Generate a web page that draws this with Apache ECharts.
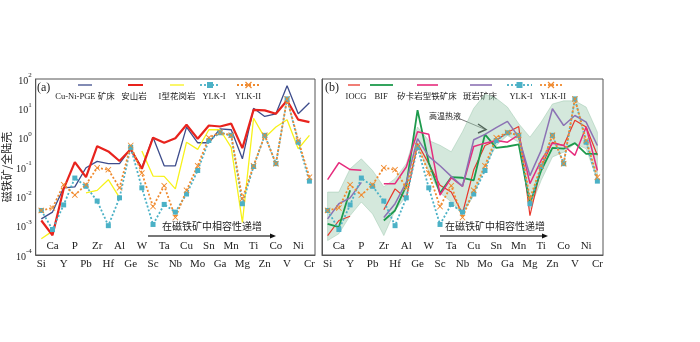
<!DOCTYPE html>
<html>
<head>
<meta charset="utf-8">
<script src="https://cdn.jsdelivr.net/npm/echarts@6/dist/echarts.min.js"></script>
<style>
  html, body { margin: 0; padding: 0; background: #fff; }
  #chart { width: 700px; height: 342px; }
</style>
</head>
<body>
<div id="chart"></div>
<script>
/* 元素顺序(磁铁矿中相容性递增) */
var elements = ['Si','Ca','Y','P','Pb','Zr','Hf','Al','Ge','W','Sc','Ta','Nb','Cu','Mo','Sn','Ga','Mn','Mg','Ti','Zn','Co','V','Ni','Cr'];

/* (a) */
var cuNiPge  = [1.7e-3, 2.9e-3, 0.0195, 0.021, 0.094, 0.155, 0.13, 0.13, 0.42, 0.094, 1.04, 0.11, 0.11, 2.3, 0.67, 0.67, 2.0, 1.86, 0.19, 10, 5.3, 6.5, 59, 6.5, 15.5];
var andesite = [1.5e-3, 4.7e-4, 0.018, 0.147, 0.045, 0.51, 0.34, 0.16, 0.4, 0.087, 1.0, 0.67, 0.96, 2.75, 0.92, 2.6, 2.4, 3.0, 0.44, 8.9, 8.5, 6.5, 18.5, 4.1, 3.4];
var granite  = [3.6e-4, 6.5e-4, null, null, 0.013, 0.016, 0.037, 0.009, null, 0.35, 0.049, 0.048, 0.018, 0.7, 0.4, 1.86, 1.86, 0.47, 1.3e-3, 4.6, 1.0, 2.3, 4.1, 0.42, 1.2];
var ylk1     = [3.3e-3, 7.4e-4, 5.1e-3, 0.042, 0.022, 6.9e-3, 1.0e-3, 8.9e-3, 0.47, 0.0195, 1.1e-3, 5.3e-3, 2.9e-3, 0.012, 0.076, 0.8, 1.47, 1.2, 5.6e-3, 0.104, 1.2, 0.13, 21, 0.7, 0.033];
var ylk2     = [3.3e-3, 4e-3, 0.025, 0.011, 0.025, 0.094, 0.081, 0.0195, 0.54, 0.062, 4.5e-3, 0.023, 1.9e-3, 0.016, 0.11, 1.0, 1.5, 1.2, 8.3e-3, 0.11, 1.2, 0.13, 21, 0.8, 0.045];

/* (b) */
var iocg     = [4.6e-4, 1.5e-3, 2.1e-3, null, null, 3.5e-3, 0.018, 8.3e-3, 0.63, 0.13, 0.024, 0.014, 2.6e-3, 0.08, 0.54, 0.8, 1.5, 2.4, 2.2e-3, 0.099, 0.7, 0.54, 3.9, 2.3, 0.25];
var bif      = [1.15e-3, 8.9e-4, 0.016, null, null, 1.5e-3, 3.3e-3, 0.023, 8.7, 0.14, 0.013, 0.045, 0.043, 0.035, 1.3, 0.45, 0.5, 0.59, 5.6e-3, 0.076, 0.45, 0.42, 0.65, 0.28, 0.28];
var skarn    = [0.037, 0.14, 0.082, 0.078, null, 0.027, 0.027, 0.1, 1.6, 1.3, 0.011, 0.043, 0.022, 0.5, 0.65, 0.8, 0.7, 1.25, 0.027, 0.17, 0.65, 0.54, 0.25, 2.3, 0.076];
var porphyry = [1.7e-3, 5.6e-3, 8.9e-3, 0.03, null, 1.9e-3, 5.6e-3, 0.03, 0.93, 0.23, 0.11, 0.048, 0.022, 0.85, 1.3, 2.2, 3.6, 1.04, 0.051, 0.37, 9.7, 2.6, 5.7, 3.4, 0.54];
/* 高温热液 范围 */
var envUpper = [0.014, 0.014, 0.087, 0.19, 0.076, 0.021, 0.04, 0.13, 2.3, 0.8, 0.55, 0.33, 1.6, 10, 30, 22, 11, 3, 1.04, 3.4, 14, 18, 18, 11, 1.54];
var envLower = [3.1e-4, 5.3e-4, 2.2e-3, 6.4e-3, 2.5e-3, 4.6e-4, 3.3e-3, 0.01, 0.5, 0.07, 0.013, 6.5e-3, 2.4e-3, 0.011, 0.1, 0.54, 1.19, 0.7, 3.7e-3, 0.035, 0.22, 0.32, 0.62, 0.42, 0.035];

var SERIF = "'Liberation Serif', 'Noto Sans CJK SC', serif";
var AXIS_COLOR = '#555';
var CROSS = 'path://M0,1L1,0L5,4L9,0L10,1L6,5L10,9L9,10L5,6L1,10L0,9L4,5Z';

var colors = {
    cuNiPge: '#3e4d8c', andesite: '#e8231d', granite: '#f7f21a',
    ylk1: '#4bb1c6', ylk2: '#f08a2e',
    iocg: '#e8382c', bif: '#1d9a4c', skarn: '#e62c7d', porphyry: '#8c72b4'
};

var grids = [
    { left: 33, right: 385, top: 79, bottom: 87, show: true, borderColor: AXIS_COLOR, borderWidth: 1 },
    { left: 322, right: 97, top: 79, bottom: 87, show: true, borderColor: AXIS_COLOR, borderWidth: 1 }
];

function makeXAxes(g) {
    return [{
        gridIndex: g, type: 'category', data: elements, position: 'bottom',
        axisLine: { lineStyle: { color: AXIS_COLOR } },
        axisTick: { inside: true, alignWithLabel: true, length: 3, interval: 0, lineStyle: { color: AXIS_COLOR } },
        axisLabel: { interval: function (i) { return i % 2 === 0; }, margin: 4, fontSize: 11, fontFamily: SERIF, color: '#222' }
    }, {
        gridIndex: g, type: 'category', data: elements, position: 'bottom',
        axisLine: { show: false }, axisTick: { show: false },
        axisLabel: { inside: true, interval: function (i) { return i % 2 === 1; }, margin: 3, fontSize: 11, fontFamily: SERIF, color: '#222' }
    }];
}

function makeYAxis(g, withLabel) {
    var ax = {
        gridIndex: g, type: 'log', logBase: 10, min: 1e-4, max: 100, splitNumber: 6,
        axisLine: { show: true, lineStyle: { color: AXIS_COLOR } },
        axisTick: { inside: true, length: 4, lineStyle: { color: AXIS_COLOR } },
        splitLine: { show: false },
        axisLabel: {
            show: withLabel, margin: 4, color: '#222',
            formatter: function (v) {
                var e = Math.round(Math.log10(v));
                return '{b|10}{s|' + e + '}';
            },
            rich: {
                b: { fontSize: 10, fontFamily: SERIF, color: '#222', lineHeight: 14, verticalAlign: 'bottom' },
                s: { fontSize: 7, fontFamily: SERIF, color: '#222', lineHeight: 14, verticalAlign: 'top' }
            }
        }
    };
    if (withLabel) {
        ax.name = '磁铁矿/全陆壳';
        ax.nameLocation = 'middle';
        ax.nameRotate = 90;
        ax.nameGap = 20;
        ax.nameTextStyle = { fontSize: 11, fontFamily: "'Noto Sans CJK SC'", color: '#222' };
    }
    return ax;
}

function solid(name, data, color, width, xi, yi) {
    return {
        name: name, type: 'line', data: data, xAxisIndex: xi, yAxisIndex: yi,
        symbol: 'none', z: 3,
        lineStyle: { color: color, width: width }
    };
}
function dotted(name, data, color, symbol, size, xi, yi) {
    return {
        name: name, type: 'line', data: data, xAxisIndex: xi, yAxisIndex: yi,
        symbol: symbol, symbolSize: size, showAllSymbol: true, z: 4,
        itemStyle: { color: color },
        lineStyle: { color: color, width: 1.8, type: [2, 2] }
    };
}

/* 图例:线段在上,文字在下 */
function legendItem(x1, x2, cx, label, color, width, kind) {
    var y = 85, items = [];
    items.push({ type: 'line', shape: { x1: x1, y1: y, x2: x2, y2: y },
        style: { stroke: color, lineWidth: kind ? 1.8 : width, lineDash: kind ? [2, 2] : null } });
    if (kind === 'rect') {
        var m = (x1 + x2) / 2;
        items.push({ type: 'rect', shape: { x: m - 3, y: y - 3, width: 6, height: 6 }, style: { fill: color } });
    } else if (kind === 'cross') {
        var m2 = (x1 + x2) / 2;
        items.push({ type: 'line', shape: { x1: m2 - 3, y1: y - 3, x2: m2 + 3, y2: y + 3 }, style: { stroke: color, lineWidth: 1.3 } });
        items.push({ type: 'line', shape: { x1: m2 - 3, y1: y + 3, x2: m2 + 3, y2: y - 3 }, style: { stroke: color, lineWidth: 1.3 } });
    }
    items.push({ type: 'text', x: cx, y: 96.5,
        style: { text: label, fill: '#222', font: '8.5px ' + SERIF, align: 'center', verticalAlign: 'middle' } });
    return items;
}

function arrow(x1, x2, y, textX, text) {
    return [
        { type: 'line', shape: { x1: x1, y1: y, x2: x2 - 3, y2: y }, style: { stroke: '#777', lineWidth: 2 } },
        { type: 'polygon', shape: { points: [[x2 - 5, y - 2.5], [x2 + 1, y], [x2 - 5, y + 2.5]] }, style: { fill: '#111' } },
        { type: 'text', x: textX, y: y - 9,
          style: { text: text, fill: '#222', font: '10px ' + SERIF, align: 'left', verticalAlign: 'middle' } }
    ];
}

var graphics = [];
graphics.push({ type: 'text', x: 37, y: 88, style: { text: '(a)', fill: '#222', font: '12px ' + SERIF, verticalAlign: 'middle' } });
graphics.push({ type: 'text', x: 325, y: 88, style: { text: '(b)', fill: '#222', font: '12px ' + SERIF, verticalAlign: 'middle' } });
graphics = graphics
    .concat(legendItem(78, 92, 85, 'Cu-Ni-PGE 矿床', colors.cuNiPge, 1.3))
    .concat(legendItem(128, 143, 134, '安山岩', colors.andesite, 2))
    .concat(legendItem(170, 184, 177, 'I型花岗岩', colors.granite, 1.3))
    .concat(legendItem(200, 220, 214, 'YLK-I', colors.ylk1, 1.8, 'rect'))
    .concat(legendItem(237, 260, 248, 'YLK-II', colors.ylk2, 1.8, 'cross'))
    .concat(legendItem(348, 360, 356, 'IOCG', colors.iocg, 1.3))
    .concat(legendItem(370, 393, 381, 'BIF', colors.bif, 1.8))
    .concat(legendItem(417, 438, 427, '矽卡岩型铁矿床', colors.skarn, 1.6))
    .concat(legendItem(470, 492, 480, '斑岩矿床', colors.porphyry, 1.6))
    .concat(legendItem(507, 532, 521, 'YLK-I', colors.ylk1, 1.8, 'rect'))
    .concat(legendItem(540, 562, 553, 'YLK-II', colors.ylk2, 1.8, 'cross'))
    .concat(arrow(148, 275, 236, 162, '在磁铁矿中相容性递增'))
    .concat(arrow(440, 547, 236, 445, '在磁铁矿中相容性递增'));
/* 高温热液 标注 */
graphics.push({ type: 'text', x: 445, y: 117, style: { text: '高温热液', fill: '#222', font: '8px ' + SERIF, align: 'center', verticalAlign: 'middle' } });
graphics.push({ type: 'line', shape: { x1: 458, y1: 118, x2: 484, y2: 129 }, style: { stroke: '#777', lineWidth: 1 } });
graphics.push({ type: 'polyline', shape: { points: [[478, 124], [486, 129.5], [478, 133]] }, style: { stroke: '#111', lineWidth: 1.5, fill: null } });

var box = document.getElementById('chart');
var myChart = echarts.init(box, null, { renderer: 'canvas' });

var option = {
    animation: false,
    backgroundColor: '#fff',
    grid: grids,
    xAxis: makeXAxes(0).concat(makeXAxes(1)),
    yAxis: [makeYAxis(0, true), makeYAxis(1, false)],
    graphic: graphics,
    series: [
        {
            name: '高温热液', type: 'custom', xAxisIndex: 2, yAxisIndex: 1, z: 1, silent: true,
            data: [[0, 1]],
            renderItem: function (params, api) {
                var pts = [];
                for (var i = 0; i < envUpper.length; i++) pts.push(api.coord([i, envUpper[i]]));
                for (var j = envLower.length - 1; j >= 0; j--) pts.push(api.coord([j, envLower[j]]));
                return { type: 'polygon', shape: { points: pts },
                    style: { fill: 'rgba(160,205,178,0.45)', stroke: 'rgba(140,190,160,0.4)', lineWidth: 1 } };
            }
        },
        solid('Cu-Ni-PGE 矿床', cuNiPge, colors.cuNiPge, 1.3, 0, 0),
        solid('I型花岗岩', granite, colors.granite, 1.3, 0, 0),
        solid('安山岩', andesite, colors.andesite, 2.2, 0, 0),
        dotted('YLK-I', ylk1, colors.ylk1, 'rect', 5, 0, 0),
        dotted('YLK-II', ylk2, colors.ylk2, CROSS, 6, 0, 0),

        solid('IOCG', iocg, colors.iocg, 1.2, 2, 1),
        solid('BIF', bif, colors.bif, 1.8, 2, 1),
        solid('矽卡岩型铁矿床', skarn, colors.skarn, 1.5, 2, 1),
        solid('斑岩矿床', porphyry, colors.porphyry, 1.5, 2, 1),
        dotted('YLK-I', ylk1, colors.ylk1, 'rect', 5, 2, 1),
        dotted('YLK-II', ylk2, colors.ylk2, CROSS, 6, 2, 1)
    ]
};
myChart.setOption(option);
</script>
</body>
</html>
